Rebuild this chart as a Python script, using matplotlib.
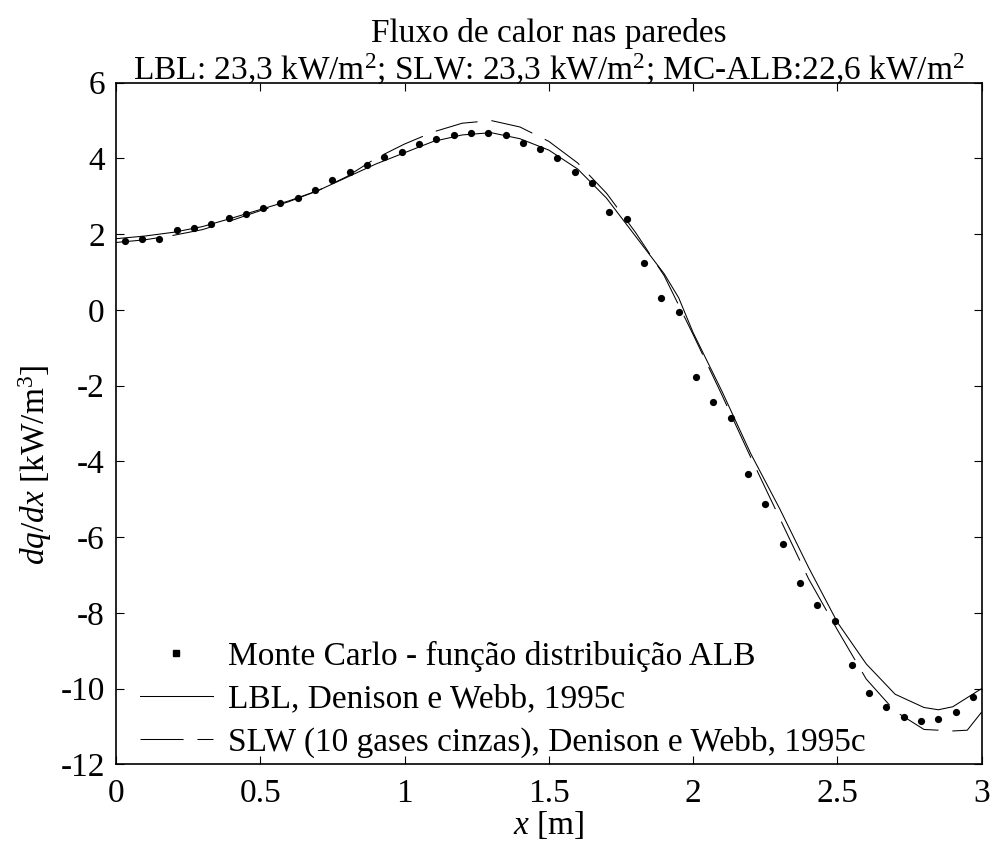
import matplotlib
matplotlib.use("Agg")
import matplotlib.pyplot as plt
from matplotlib.lines import Line2D

plt.rcParams["font.family"] = ["Liberation Serif", "DejaVu Serif"]
plt.rcParams["mathtext.fontset"] = "custom"
plt.rcParams["mathtext.rm"] = "Liberation Serif"
plt.rcParams["mathtext.it"] = "Liberation Serif:italic"
plt.rcParams["axes.unicode_minus"] = False
plt.rcParams["lines.scale_dashes"] = False

# Monte Carlo (ALB distribution) results
x_mc = [0.03, 0.09, 0.15, 0.21, 0.27, 0.33, 0.39, 0.45, 0.51, 0.57,
        0.63, 0.69, 0.75, 0.81, 0.87, 0.93, 0.99, 1.05, 1.11, 1.17,
        1.23, 1.29, 1.35, 1.41, 1.47, 1.53, 1.59, 1.65, 1.71, 1.77,
        1.83, 1.89, 1.95, 2.01, 2.07, 2.13, 2.19, 2.25, 2.31, 2.37,
        2.43, 2.49, 2.55, 2.61, 2.67, 2.73, 2.79, 2.85, 2.91, 2.97]
q_mc = [1.83, 1.88, 1.88, 2.10, 2.15, 2.26, 2.43, 2.53, 2.68, 2.83,
        2.95, 3.16, 3.42, 3.63, 3.83, 4.05, 4.16, 4.37, 4.52, 4.63,
        4.67, 4.67, 4.63, 4.42, 4.26, 4.00, 3.63, 3.36, 2.58, 2.41,
        1.25, 0.31, -0.05, -1.78, -2.43, -2.85, -4.33, -5.12, -6.17, -7.22,
        -7.80, -8.21, -9.38, -10.11, -10.48, -10.75, -10.85, -10.80, -10.63, -10.21]

# LBL reference solution
x_lbl = [0.0, 0.1, 0.2, 0.3, 0.4, 0.5, 0.6, 0.7, 0.8, 0.9,
         1.0, 1.1, 1.2, 1.3, 1.4, 1.5, 1.6, 1.7, 1.8, 1.9,
         1.95, 2.0, 2.1, 2.2, 2.3, 2.4, 2.5, 2.6, 2.7, 2.8,
         2.85, 2.9, 3.0]
q_lbl = [1.88, 1.95, 2.05, 2.20, 2.42, 2.65, 2.88, 3.15, 3.50, 3.85,
         4.15, 4.45, 4.62, 4.68, 4.52, 4.22, 3.72, 2.95, 1.95, 0.95,
         0.32, -0.60, -2.15, -3.80, -5.25, -6.80, -8.25, -9.35, -10.15, -10.50,
         -10.56, -10.48, -10.00]

# SLW, 10 grey gases
x_slw = [0.0, 0.1, 0.2, 0.3, 0.4, 0.5, 0.6, 0.7, 0.8, 0.9,
         1.0, 1.1, 1.2, 1.3, 1.4, 1.5, 1.6, 1.7, 1.8, 1.9,
         2.0, 2.1, 2.2, 2.3, 2.4, 2.5, 2.6, 2.7, 2.8, 2.9,
         2.95, 3.0]
q_slw = [1.78, 1.85, 1.97, 2.12, 2.36, 2.62, 2.86, 3.15, 3.52, 4.00,
         4.38, 4.70, 4.93, 5.00, 4.83, 4.45, 3.88, 3.08, 2.05, 0.90,
         -0.65, -2.25, -3.90, -5.50, -7.10, -8.45, -9.75, -10.60, -11.08, -11.12,
         -11.10, -10.62]

fs = 24

fig = plt.figure(figsize=(9.92, 8.42), dpi=100)
ax = fig.add_axes([0.1169, 0.0923, 0.8727, 0.8095])

ax.plot(x_mc, q_mc, "o", color="k", ms=5.2, mew=0)
ax.plot(x_lbl, q_lbl, "-", color="k", lw=0.75)
ax.plot(x_slw, q_slw, color="k", lw=0.75, dashes=(31, 10))

ax.set_xlim(0, 3)
ax.set_ylim(-12, 6)
ax.set_xticks([0, 0.5, 1, 1.5, 2, 2.5, 3])
ax.set_xticklabels(["0", "0.5", "1", "1.5", "2", "2.5", "3"])
ax.set_yticks(range(-12, 7, 2))
ax.tick_params(direction="in", length=6, width=0.8, top=True, right=True,
               labelsize=fs)
ax.tick_params(axis="x", pad=10)
ax.tick_params(axis="y", pad=8)
for s in ax.spines.values():
    s.set_linewidth(1.2)

ax.set_xlabel("$x$ [m]", fontsize=fs, labelpad=0)
ax.set_ylabel("$dq/dx$ [kW/m$^3$]", fontsize=fs)
ax.yaxis.set_label_coords(-0.072, 0.44)
ax.set_title("Fluxo de calor nas paredes\n"
             "LBL: 23,3 kW/m$^2$; SLW: 23,3 kW/m$^2$; MC-ALB:22,6 kW/m$^2$",
             fontsize=fs, linespacing=1.1, pad=2)

handles = [
    Line2D([], [], marker="s", ms=4, ls="none", color="k"),
    Line2D([], [], color="k", lw=0.75),
    Line2D([], [], color="k", lw=0.75, dashes=(31, 10)),
]
labels = [
    "Monte Carlo - função distribuição ALB",
    "LBL, Denison e Webb, 1995c",
    "SLW (10 gases cinzas), Denison e Webb, 1995c",
]
ax.legend(handles, labels, loc="lower left", bbox_to_anchor=(0.0196, 0.0),
          frameon=False, fontsize=fs, handlelength=2.2, handletextpad=0.45,
          labelspacing=0.36, borderaxespad=0.0, borderpad=0.2)

fig.savefig("out.png", dpi=100)
